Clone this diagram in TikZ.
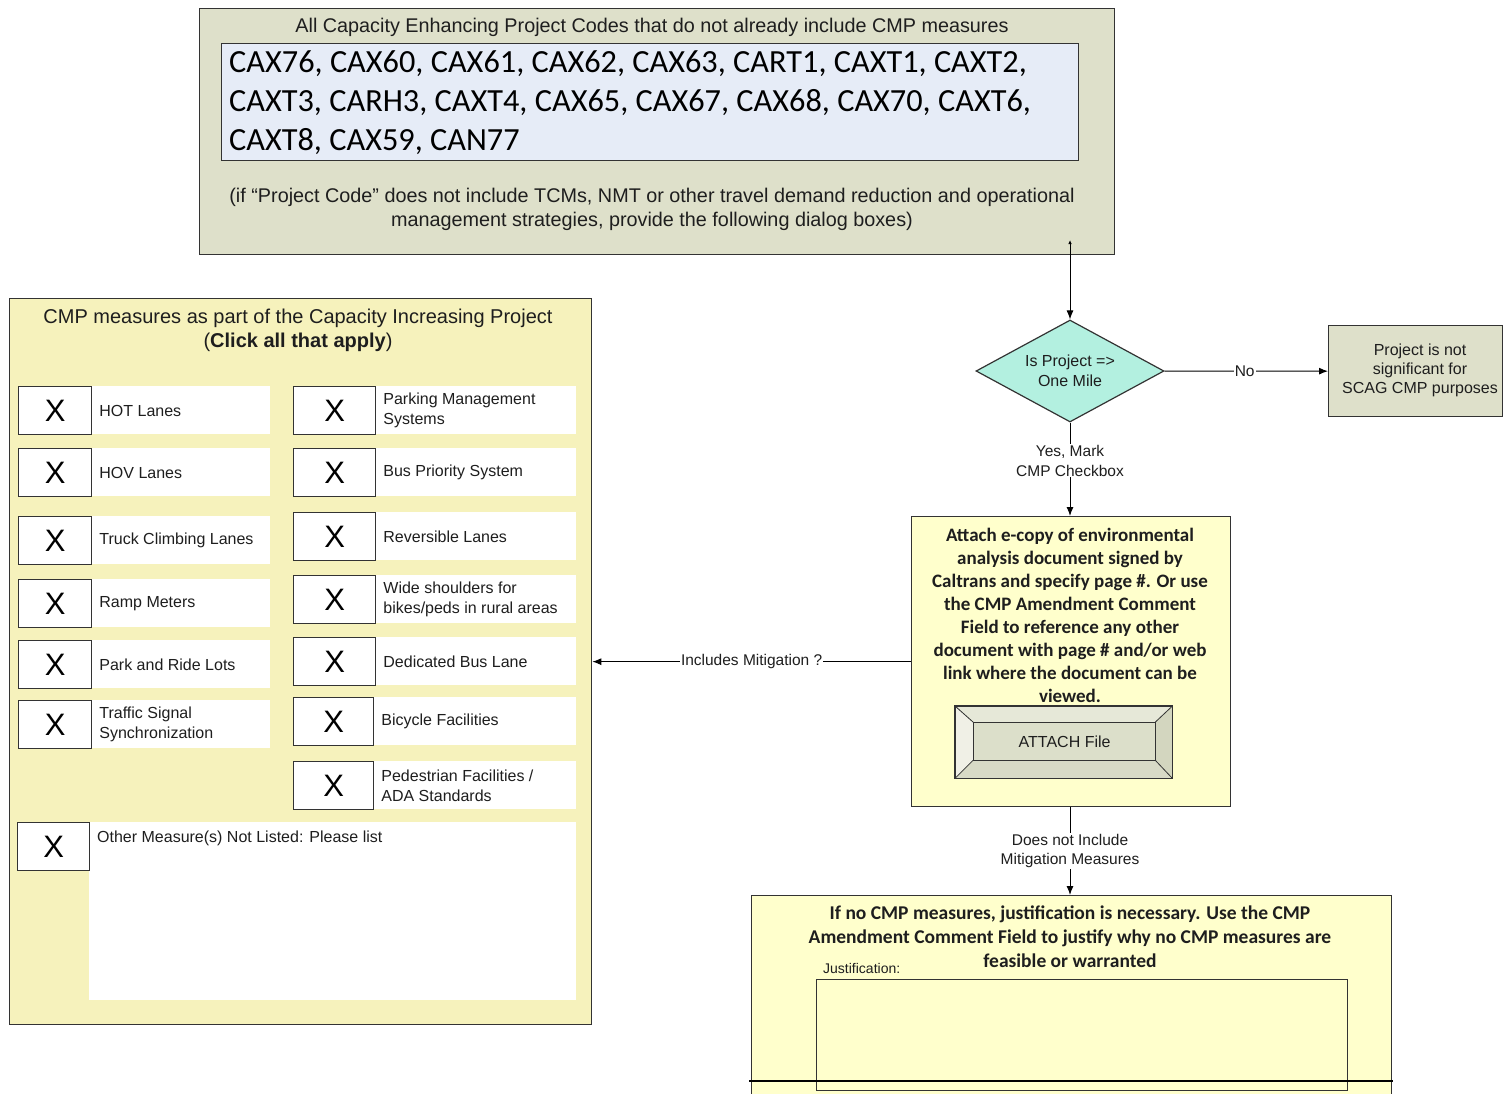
\documentclass[tikz,border=0pt]{standalone}
\usepackage{fontspec}
\setmainfont{Liberation Sans}
\newfontfamily\calib{Carlito}
\usetikzlibrary{shapes.geometric,arrows.meta}
\newcommand{\setfs}[2]{\fontsize{#1}{#2}\selectfont}
\definecolor{grayfill}{HTML}{DEE0CA}
\definecolor{codefill}{HTML}{E6ECF7}
\definecolor{diafill}{HTML}{B3F0E0}
\definecolor{cmpfill}{HTML}{F6F2BC}
\definecolor{yelfill}{HTML}{FFFFCC}
\definecolor{edge}{HTML}{333333}
\definecolor{txt}{HTML}{1E1E1E}
\definecolor{bevlight}{HTML}{F0F0E6}
\definecolor{bevtop}{HTML}{E6E8D8}
\definecolor{bevdark}{HTML}{D3D6BF}
\definecolor{bevbot}{HTML}{D8DAC6}
\definecolor{btnfill}{HTML}{DCDFCA}
\newcommand{\cbitem}[7]{%
  \node[labelarea, minimum width={#5-#2}, minimum height=#6] (#1a) at (#2,#3) {};
  \node[xbox, minimum width=#4, minimum height=#6] (#1) at (#2,#3) {X};
  \node[itemtext] (#1t) at ([xshift=7pt]#1.east) {#7};
}
\begin{document}
\begin{tikzpicture}[x=1pt,y=-1pt,
  panel/.style={draw=edge, line width=1.3pt, anchor=north west, inner sep=0pt},
  labelarea/.style={fill=white, anchor=north west, inner sep=0pt},
  xbox/.style={draw=edge, line width=1.2pt, fill=white, inner sep=0pt, anchor=north west, font=\setfs{31}{31}, text=black},
  itemtext/.style={anchor=west, align=left, font=\setfs{16}{20}, text=txt, inner sep=0pt},
  conn/.style={draw=black, line width=1pt, -{Latex[length=9pt,width=7pt]}},
  lbl/.style={fill=white, font=\setfs{15.5}{19.5}, text=txt, align=center, inner sep=1pt}
]
\useasboundingbox (0,0) rectangle (1503,1093);
\fill[white] (0,0) rectangle (1503,1093);

% ---------- top box ----------
\node[panel, fill=grayfill, minimum width=915, minimum height=246] (top) at (199,8) {};
\node[font=\setfs{19.8}{22}, text=txt, inner sep=0pt] (tophead) at (652,27) {All Capacity Enhancing Project Codes that do not already include CMP measures};
\node[panel, line width=1.2pt, fill=codefill, minimum width=857, minimum height=117] (codebox) at (221,43) {};
\node[anchor=north west, font=\calib\setfs{32.3}{39}, align=left, inner sep=0pt, text=black] (codes) at (229,50)
  {CAX76, CAX60, CAX61, CAX62, CAX63, CART1, CAXT1, CAXT2,\\
   CAXT3, CARH3, CAXT4, CAX65, CAX67, CAX68, CAX70, CAXT6,\\
   CAXT8, CAX59, CAN77};
\node[font=\setfs{19.8}{24}, align=center, text=txt, inner sep=0pt] (note) at (652,209)
  {(if “Project Code” does not include TCMs, NMT or other travel demand reduction and operational\\
   management strategies, provide the following dialog boxes)};
\coordinate (tstart) at (1070,240);

% ---------- diamond ----------
\node[diamond, draw=edge, line width=1.2pt, fill=diafill, aspect=1.84, inner sep=0pt,
      minimum width=188, minimum height=102, font=\setfs{16}{20}, align=center, text=txt] (dia) at (1070,371)
  {Is Project =>\\One Mile};

% ---------- right box ----------
\node[panel, fill=grayfill, minimum width=174, minimum height=91] (rbox) at (1328,325) {};
\node[font=\setfs{16}{19}, align=center, text=txt, inner sep=0pt] (rtext) at (1420,370)
  {Project is not\\significant for\\SCAG CMP purposes};

% ---------- attach box ----------
\node[panel, fill=yelfill, minimum width=319, minimum height=290] (attach) at (911,516) {};
\node[font=\calib\bfseries\setfs{19}{23}, align=center, text=txt, inner sep=0pt] (attachtext) at (1070,615.5)
  {Attach e-copy of environmental\\analysis document signed by\\Caltrans and specify page \#. Or use\\the CMP Amendment Comment\\Field to reference any other\\document with page \# and/or web\\link where the document can be\\viewed.};
% button
\path node[anchor=north west, minimum width=217, minimum height=72, inner sep=0pt] (btn) at (955,706) {};
\path node[anchor=north west, minimum width=182, minimum height=38, inner sep=0pt] (btnin) at (973,722) {};
\fill[bevtop] (btn.north west) -- (btn.north east) -- (btnin.north east) -- (btnin.north west) -- cycle;
\fill[bevlight] (btn.north west) -- (btnin.north west) -- (btnin.south west) -- (btn.south west) -- cycle;
\fill[bevdark] (btn.north east) -- (btn.south east) -- (btnin.south east) -- (btnin.north east) -- cycle;
\fill[bevbot] (btn.south west) -- (btnin.south west) -- (btnin.south east) -- (btn.south east) -- cycle;
\draw[edge, line width=0.8pt] (btn.north west) -- (btnin.north west) (btn.north east) -- (btnin.north east)
  (btn.south west) -- (btnin.south west) (btn.south east) -- (btnin.south east);
\draw[edge, line width=1.2pt] (btn.north west) rectangle (btn.south east);
\node[draw=edge, line width=1.2pt, fill=btnfill, anchor=north west, minimum width=182, minimum height=38, inner sep=0pt,
      font=\setfs{16}{19}, text=txt] (btnlabel) at (973,722) {ATTACH File};

% ---------- bottom box ----------
\node[panel, fill=yelfill, minimum width=640, minimum height=202] (bottom) at (751,895) {};
\node[font=\calib\bfseries\setfs{19.5}{24}, align=center, text=txt, inner sep=0pt] (bottomtext) at (1070,937)
  {If no CMP measures, justification is necessary. Use the CMP\\Amendment Comment Field to justify why no CMP measures are\\feasible or warranted};
\node[anchor=west, font=\setfs{14}{16}, text=txt, inner sep=0pt] (justlbl) at (823,968) {Justification:};
\node[panel, line width=1.2pt, fill=yelfill, minimum width=531, minimum height=111] (justbox) at (816,979) {};
\coordinate (hl1) at (749,1081);
\coordinate (hl2) at (1393,1081);
\draw[black, line width=1.2pt] (hl1) -- (hl2);

% ---------- CMP measures box ----------
\node[panel, fill=cmpfill, minimum width=582, minimum height=726] (cmp) at (9,298) {};
\node[font=\setfs{20}{24}, align=center, text=txt, inner sep=0pt] (cmptitle) at (298,330)
  {CMP measures as part of the Capacity Increasing Project\\(\textbf{Click all that apply})};

\cbitem{hot}{18}{386}{73}{270}{48}{HOT Lanes}
\cbitem{hov}{18}{448}{73}{270}{48}{HOV Lanes}
\cbitem{truck}{18}{516}{73}{270}{48}{Truck Climbing Lanes}
\cbitem{ramp}{18}{579}{73}{270}{48}{Ramp Meters}
\cbitem{park}{18}{640}{73}{270}{48}{Park and Ride Lots}
\cbitem{signal}{18}{700}{73}{270}{48}{Traffic Signal\\Synchronization}

\cbitem{parking}{293}{386}{82}{576}{48}{Parking Management\\Systems}
\cbitem{bus}{293}{448}{82}{576}{48}{Bus Priority System}
\cbitem{rev}{293}{512}{82}{576}{48}{Reversible Lanes}
\cbitem{wide}{293}{575}{82}{576}{48}{Wide shoulders for\\bikes/peds in rural areas}
\cbitem{dbl}{293}{637}{82}{576}{48}{Dedicated Bus Lane}
\cbitem{bike}{293}{697}{80}{576}{48}{Bicycle Facilities}
\cbitem{ped}{293}{761}{80}{576}{48}{Pedestrian Facilities /\\ADA Standards}

\node[labelarea, minimum width=487, minimum height=178] (othera) at (89,822) {};
\node[xbox, minimum width=72, minimum height=48] (other) at (17,822) {X};
\node[anchor=west, font=\setfs{16}{20}, text=txt, inner sep=0pt] (othert) at (97,838) {Other Measure(s) Not Listed: Please list};

% ---------- connectors ----------
\draw[line width=1pt, {Latex[length=4pt,width=3.5pt]}-{Latex[length=9pt,width=7pt]}] (tstart) -- (dia.north);
\draw[conn] (dia.east) -- node[lbl, pos=0.49] (nolbl) {No} (rbox.west);
\draw[conn] (dia.south) -- node[lbl, pos=0.41] (yeslbl) {Yes, Mark\\CMP Checkbox} (dia.south |- attach.north);
\draw[conn] (attach.west) -- node[lbl, pos=0.5] (mitlbl) {Includes Mitigation ?} (cmp.east);
\draw[conn] (dia.south |- attach.south) -- node[lbl, pos=0.5] (doeslbl) {Does not Include\\Mitigation Measures} (dia.south |- bottom.north);
\end{tikzpicture}
\end{document}
